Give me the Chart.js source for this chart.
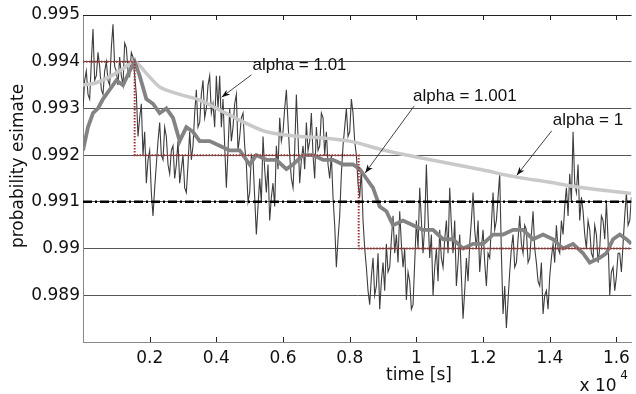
<!DOCTYPE html>
<html>
<head>
<meta charset="utf-8">
<script src="https://cdn.jsdelivr.net/npm/chart.js@4.4.0/dist/chart.umd.min.js"></script>
<style>
  body { margin: 0; background: #fff; }
  #wrap { width: 636px; height: 394px; }
</style>
</head>
<body>
<div id="wrap"><canvas id="probChart" width="636" height="394"></canvas></div>
<script>
// -- data --
const X_MIN = 0;
const X_MAX = 16450;
const Y_MIN = 0.988;
const Y_MAX = 0.995;
const xTickValues = [2000, 4000, 6000, 8000, 10000, 12000, 14000, 16000];

// alpha = 1.01, sampled every 50 s
const noisyStep = 50;
const noisyValues = [
  0.9930, 0.9936, 0.9938, 0.9933, 0.9932, 0.9940, 0.9947, 0.9936, 0.9937, 0.9942,
  0.9939, 0.9934, 0.9933, 0.9938, 0.9940, 0.9936, 0.9935, 0.9943, 0.9948, 0.9939,
  0.9938, 0.9935, 0.9941, 0.9937, 0.9935, 0.9944, 0.9943, 0.9938, 0.9937, 0.9942,
  0.9941, 0.9937, 0.9933, 0.9924, 0.9928, 0.9931, 0.9920, 0.9925, 0.9914, 0.9919,
  0.9921, 0.9912, 0.9907, 0.9913, 0.9918, 0.9923, 0.9927, 0.9920, 0.9919, 0.9926,
  0.9924, 0.9918, 0.9916, 0.9921, 0.9922, 0.9915, 0.9918, 0.9923, 0.9914, 0.9917,
  0.9920, 0.9913, 0.9912, 0.9918, 0.9925, 0.9919, 0.9922, 0.9929, 0.9934, 0.9926,
  0.9927, 0.9933, 0.9936, 0.9928, 0.9930, 0.9935, 0.9937, 0.9929, 0.9931, 0.9926,
  0.9937, 0.9930, 0.9937, 0.9926, 0.9932, 0.9922, 0.9913, 0.9921, 0.9930, 0.9923,
  0.9926, 0.9931, 0.9933, 0.9921, 0.9924, 0.9928, 0.9929, 0.9922, 0.9918, 0.9910,
  0.9912, 0.9920, 0.9919, 0.9911, 0.9903, 0.9909, 0.9915, 0.9910, 0.9924, 0.9917,
  0.9912, 0.9918, 0.9906, 0.9911, 0.9914, 0.9909, 0.9922, 0.9917, 0.9928, 0.9923,
  0.9925, 0.9930, 0.9934, 0.9927, 0.9920, 0.9915, 0.9913, 0.9921, 0.9933, 0.9924,
  0.9914, 0.9919, 0.9922, 0.9917, 0.9927, 0.9921, 0.9923, 0.9929, 0.9920, 0.9915,
  0.9926, 0.9921, 0.9922, 0.9929, 0.9928, 0.9920, 0.9925, 0.9918, 0.9915, 0.9920,
  0.9911, 0.9905, 0.9896, 0.9902, 0.9907, 0.9916, 0.9922, 0.9926, 0.9930, 0.9924,
  0.9925, 0.9932, 0.9929, 0.9923, 0.9920, 0.9914, 0.9911, 0.9917, 0.9906, 0.9900,
  0.9896, 0.9891, 0.9888, 0.9894, 0.9898, 0.9890, 0.9892, 0.9899, 0.9887, 0.9893,
  0.9897, 0.9891, 0.9901, 0.9895, 0.9896, 0.9902, 0.9907, 0.9899, 0.9903, 0.9897,
  0.9908, 0.9901, 0.9896, 0.9900, 0.9889, 0.9895, 0.9893, 0.9887, 0.9888, 0.9897,
  0.9906, 0.9900, 0.9913, 0.9906, 0.9899, 0.9905, 0.9918, 0.9907, 0.9898, 0.9903,
  0.9890, 0.9896, 0.9900, 0.9893, 0.9904, 0.9898, 0.9896, 0.9902, 0.9906, 0.9899,
  0.9913, 0.9905, 0.9899, 0.9906, 0.9892, 0.9897, 0.9903, 0.9894, 0.9885, 0.9891,
  0.9898, 0.9893, 0.9901, 0.9906, 0.9912, 0.9904, 0.9900, 0.9906, 0.9895, 0.9900,
  0.9904, 0.9897, 0.9892, 0.9899, 0.9898, 0.9905, 0.9912, 0.9904, 0.9906, 0.9911,
  0.9916, 0.9899, 0.9886, 0.9892, 0.9883, 0.9889, 0.9895, 0.9900, 0.9903, 0.9896,
  0.9897, 0.9902, 0.9907, 0.9901, 0.9899, 0.9905, 0.9904, 0.9897, 0.9898, 0.9903,
  0.9908, 0.9900, 0.9897, 0.9893, 0.9892, 0.9897, 0.9886, 0.9890, 0.9891, 0.9887,
  0.9894, 0.9898, 0.9901, 0.9897, 0.9905, 0.9900, 0.9899, 0.9906, 0.9903, 0.9909,
  0.9913, 0.9907, 0.9916, 0.9910, 0.9925, 0.9914, 0.9912, 0.9918, 0.9906, 0.9911,
  0.9908, 0.9903, 0.9900, 0.9906, 0.9904, 0.9899, 0.9898, 0.9905, 0.9903, 0.9897,
  0.9900, 0.9907, 0.9906, 0.9902, 0.9910, 0.9902, 0.9890, 0.9895, 0.9896, 0.9891,
  0.9894, 0.9899, 0.9899, 0.9895, 0.9901, 0.9907, 0.9912, 0.9905, 0.9906, 0.9911
];

// alpha = 1.001
const mediumTimes = [0, 150, 300, 450, 600, 800, 1000, 1200, 1400, 1550, 1700, 1900, 2100, 2300,
  2500, 2700, 2900, 3100, 3300, 3500, 3800, 4100, 4400, 4700, 5000, 5200, 5500, 5800, 6100, 6300,
  6600, 6900, 7200, 7500, 7800, 8100, 8300, 8500, 8700, 8900, 9100, 9300, 9600, 9900, 10200, 10500,
  10800, 11100, 11400, 11700, 12000, 12300, 12600, 12900, 13200, 13500, 13800, 14100, 14400, 14700,
  15000, 15200, 15500, 15700, 15900, 16100, 16300, 16450];
const mediumValues = [0.9921, 0.9926, 0.9929, 0.9930, 0.9932, 0.9934, 0.9936, 0.9935, 0.9938, 0.9940,
  0.9937, 0.9932, 0.9931, 0.9929, 0.9930, 0.9928, 0.9923, 0.9926, 0.9925, 0.9923, 0.9923, 0.9922,
  0.9921, 0.9921, 0.9918, 0.9920, 0.9919, 0.9919, 0.9917, 0.9918, 0.9920, 0.9920, 0.9919, 0.9919,
  0.9918, 0.9918, 0.9917, 0.9915, 0.9913, 0.9909, 0.9908, 0.9905, 0.9906, 0.9905, 0.9904, 0.9904,
  0.9902, 0.9902, 0.9900, 0.9901, 0.9901, 0.9903, 0.9903, 0.9904, 0.9904, 0.9902, 0.9903, 0.9902,
  0.9900, 0.9901, 0.9899, 0.9897, 0.9898, 0.9899, 0.9902, 0.9903, 0.9902, 0.9901];

// alpha = 1
const lightTimes = [0, 400, 800, 1200, 1550, 1900, 2300, 2900, 3500, 4500, 5500, 6500, 7000, 8000,
  9000, 10000, 11000, 12000, 13000, 14000, 15000, 16450];
const lightValues = [0.99350, 0.99355, 0.99368, 0.99385, 0.99400, 0.99375, 0.99346, 0.99330, 0.99318,
  0.99282, 0.99250, 0.99240, 0.99238, 0.99230, 0.99211, 0.99196, 0.99182, 0.99168, 0.99153, 0.99142,
  0.99130, 0.99118];

// dotted step reference
const stepTimes = [0, 1550, 8270, 16450];
const stepValues = [0.994, 0.992, 0.990, 0.990];

// dash-dot threshold
const thresholdValue = 0.991;

// annotations: label, text anchor, arrow tail, arrow tip (data coordinates)
const noteLabels = ['alpha = 1.01', 'alpha = 1.001', 'alpha = 1'];
const noteText = [[5085, 0.99393], [9901, 0.99327], [14089, 0.99275]];
const noteTail = [[5055, 0.99372], [9931, 0.99305], [14059, 0.99252]];
const noteTip = [[4158, 0.99324], [8465, 0.99162], [13012, 0.99157]];

const zip = (xs, ys) => xs.map((t, i) => ({ x: t, y: ys[i] }));

// -- decorations: frame top, inward ticks, arrows, titles --
const decorations = {
  id: 'decorations',
  afterDraw(chart) {
    const { ctx, chartArea: a, scales: { x, y } } = chart;
    ctx.save();

    ctx.strokeStyle = '#222';
    ctx.lineWidth = 1;
    ctx.beginPath();
    ctx.moveTo(a.left, a.top + 0.5);
    ctx.lineTo(a.right, a.top + 0.5);
    xTickValues.forEach(t => {
      const px = Math.round(x.getPixelForValue(t)) + 0.5;
      ctx.moveTo(px, a.top);
      ctx.lineTo(px, a.top + 5);
      ctx.moveTo(px, a.bottom);
      ctx.lineTo(px, a.bottom - 5);
    });
    ctx.stroke();

    // annotation labels and arrows
    ctx.fillStyle = '#111';
    ctx.strokeStyle = '#111';
    ctx.font = "17px 'Liberation Sans', Arial, sans-serif";
    ctx.textBaseline = 'middle';
    ctx.textAlign = 'left';
    noteLabels.forEach((label, i) => {
      const tx = x.getPixelForValue(noteText[i][0]);
      const ty = y.getPixelForValue(noteText[i][1]);
      ctx.fillText(label, tx, ty);

      const x0 = x.getPixelForValue(noteTail[i][0]);
      const y0 = y.getPixelForValue(noteTail[i][1]);
      const x1 = x.getPixelForValue(noteTip[i][0]);
      const y1 = y.getPixelForValue(noteTip[i][1]);
      const ang = Math.atan2(y1 - y0, x1 - x0);
      ctx.lineWidth = 0.8;
      ctx.beginPath();
      ctx.moveTo(x0, y0);
      ctx.lineTo(x1, y1);
      ctx.stroke();
      ctx.beginPath();
      ctx.moveTo(x1, y1);
      ctx.lineTo(x1 - 9 * Math.cos(ang - 0.35), y1 - 9 * Math.sin(ang - 0.35));
      ctx.lineTo(x1 - 6 * Math.cos(ang), y1 - 6 * Math.sin(ang));
      ctx.lineTo(x1 - 9 * Math.cos(ang + 0.35), y1 - 9 * Math.sin(ang + 0.35));
      ctx.closePath();
      ctx.fill();
    });

    // axis titles
    ctx.font = "17px 'DejaVu Sans', sans-serif";
    ctx.textAlign = 'center';
    ctx.fillText('time [s]', 419, 376);
    ctx.fillText('x 10', 598, 387);
    ctx.font = "12px 'DejaVu Sans', sans-serif";
    ctx.fillText('4', 624, 376);

    ctx.font = "17px 'DejaVu Sans', sans-serif";
    ctx.translate(19, 166);
    ctx.rotate(-Math.PI / 2);
    ctx.fillText('probability esimate', 0, 0);

    ctx.restore();
  }
};

document.addEventListener('DOMContentLoaded', function () {
  Chart.defaults.font.family = "'DejaVu Sans', sans-serif";
  Chart.defaults.color = '#111';

  const ctx = document.getElementById('probChart').getContext('2d');
  new Chart(ctx, {
    type: 'line',
    data: {
      datasets: [
        {
          label: 'threshold',
          data: [{ x: X_MIN, y: thresholdValue }, { x: X_MAX, y: thresholdValue }],
          borderColor: '#000',
          borderWidth: 2.5,
          borderDash: [9, 3, 2, 3],
          pointRadius: 0
        },
        {
          label: 'step',
          data: zip(stepTimes, stepValues),
          stepped: 'before',
          borderColor: '#a83030',
          borderWidth: 2,
          borderDash: [1.5, 1.5],
          pointRadius: 0
        },
        {
          label: 'alpha = 1.001',
          data: zip(mediumTimes, mediumValues),
          borderColor: '#838383',
          borderWidth: 3.8,
          pointRadius: 0,
          tension: 0
        },
        {
          label: 'alpha = 1',
          data: zip(lightTimes, lightValues),
          borderColor: '#c9c9c9',
          borderWidth: 3.5,
          pointRadius: 0,
          tension: 0.3
        },
        {
          label: 'alpha = 1.01',
          data: noisyValues.map((v, i) => ({ x: i * noisyStep, y: v })),
          borderColor: '#3d3d3d',
          borderWidth: 1.1,
          pointRadius: 0,
          tension: 0
        }
      ]
    },
    options: {
      responsive: false,
      animation: false,
      layout: { padding: { top: 15, right: 3, left: 0, bottom: 0 } },
      plugins: {
        legend: { display: false },
        tooltip: { enabled: false }
      },
      scales: {
        x: {
          type: 'linear',
          min: X_MIN,
          max: X_MAX,
          afterFit(scale) { scale.height = 52; },
          afterBuildTicks(scale) { scale.ticks = xTickValues.map(v => ({ value: v })); },
          grid: { display: false, drawTicks: false },
          border: { color: '#888', width: 1 },
          ticks: {
            padding: 6,
            maxRotation: 0,
            font: { size: 17 },
            callback: v => (v / 10000).toString()
          }
        },
        y: {
          min: Y_MIN,
          max: Y_MAX,
          afterFit(scale) { scale.width = 83; },
          grid: { color: '#555', lineWidth: 1, drawTicks: false },
          border: { color: '#888', width: 1 },
          ticks: {
            stepSize: 0.001,
            padding: 3,
            font: { size: 17 },
            callback: v => (Math.abs(v - Y_MIN) < 1e-6 ? '' : parseFloat(v.toFixed(3)).toString())
          }
        }
      }
    },
    plugins: [decorations]
  });
});
</script>
</body>
</html>
